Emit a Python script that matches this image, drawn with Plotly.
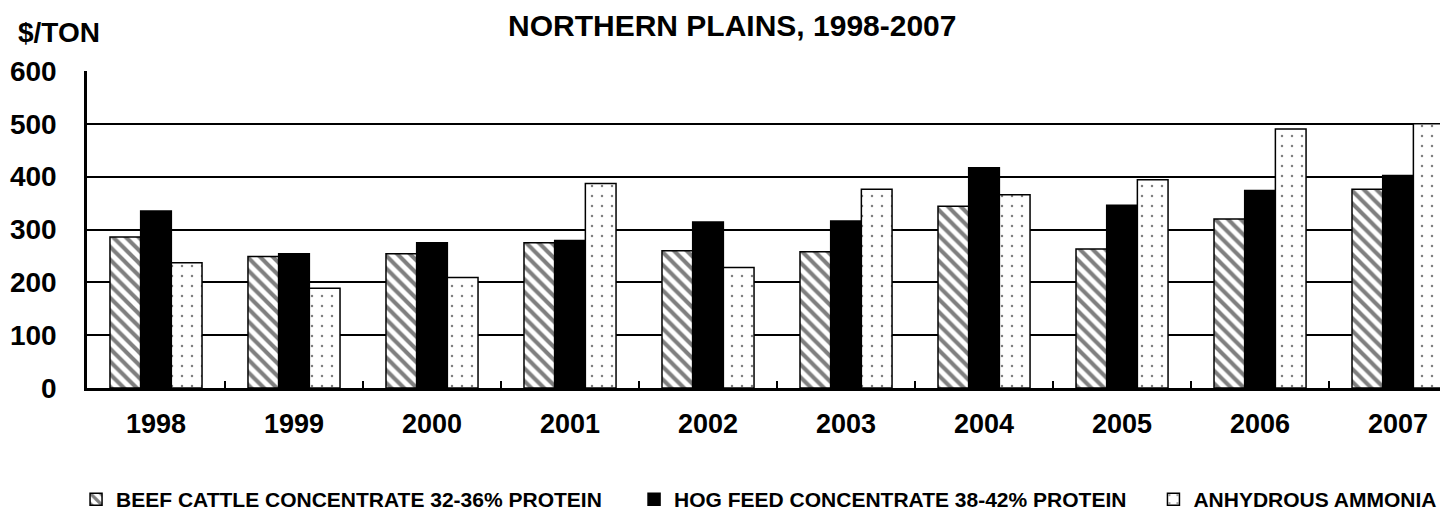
import plotly.graph_objects as go

years = ["1998", "1999", "2000", "2001", "2002", "2003", "2004", "2005", "2006", "2007"]
beef = [286, 249, 254, 275, 260, 258, 344, 263, 320, 376]
hog = [335, 254, 275, 279, 314, 316, 417, 346, 374, 402]
ammonia = [237, 189, 209, 387, 228, 376, 366, 394, 490, 500]
y_ticks = [0, 100, 200, 300, 400, 500, 600]

names = ["BEEF CATTLE CONCENTRATE 32-36% PROTEIN",
         "HOG FEED CONCENTRATE 38-42% PROTEIN",
         "ANHYDROUS AMMONIA"]

FONT = "Liberation Sans, Arial, sans-serif"
line = dict(color="black", width=1.5)

fig = go.Figure()
fig.add_trace(go.Bar(
    x=years, y=beef, name=names[0], legend="legend", showlegend=True,
    marker=dict(color="white", line=line,
                pattern=dict(shape="\\", fgcolor="black", bgcolor="white",
                             size=9, solidity=0.45, fillmode="overlay")),
))
fig.add_trace(go.Bar(
    x=years, y=hog, name=names[1], legend="legend2", showlegend=True,
    marker=dict(color="black", line=line),
))
fig.add_trace(go.Bar(
    x=years, y=ammonia, name=names[2], legend="legend3", showlegend=True,
    marker=dict(color="white", line=line,
                pattern=dict(shape=".", fgcolor="black", bgcolor="white",
                             size=10, solidity=0.05, fillmode="overlay")),
))

legend_font = dict(family=FONT, size=21, color="black", weight="bold")
leg_common = dict(orientation="h", yanchor="middle", y=-0.352, xanchor="left",
                  font=legend_font, bgcolor="rgba(0,0,0,0)", itemwidth=30)

fig.update_layout(
    width=1448, height=512,
    margin=dict(l=79, r=0, t=63, b=128),
    paper_bgcolor="white", plot_bgcolor="white",
    barmode="group", bargap=0.333, bargroupgap=0,
    showlegend=True,
    font=dict(family=FONT, color="black", weight="bold"),
    legend=dict(x=-0.008, **leg_common),
    legend2=dict(x=0.3996, **leg_common),
    legend3=dict(x=0.779, **leg_common),
    xaxis=dict(
        type="category", range=[-0.5, 9.42],
        showline=True, linecolor="black", linewidth=3,
        ticks="inside", tickson="boundaries", ticklen=7, tickwidth=2, tickcolor="black",
        tickfont=dict(family=FONT, size=27, color="black", weight="bold"),
        ticklabelstandoff=10, showgrid=False,
    ),
    yaxis=dict(
        range=[0, 600], tickvals=y_ticks,
        showline=True, linecolor="black", linewidth=2.5,
        showgrid=True, gridcolor="black", gridwidth=2,
        zeroline=False, ticks="",
        tickfont=dict(family=FONT, size=28, color="black", weight="bold"),
        ticklabelstandoff=22,
    ),
    annotations=[
        dict(text="NORTHERN PLAINS, 1998-2007", xref="paper", yref="paper",
             x=(724 - 79) / 1369, y=1 + (63 - 17) / 321, xanchor="center", yanchor="middle",
             showarrow=False, font=dict(family=FONT, size=30, color="black", weight="bold")),
        dict(text="$/TON", xref="paper", yref="paper",
             x=(8 - 79) / 1369, y=1 + (63 - 24) / 321, xanchor="left", yanchor="middle",
             showarrow=False, font=dict(family=FONT, size=28, color="black", weight="bold")),
    ],
)

fig.write_html("out.html")
